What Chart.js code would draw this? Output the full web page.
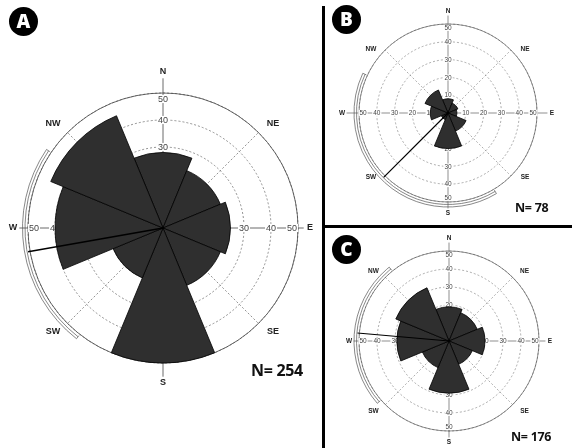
<!DOCTYPE html>
<html>
<head>
<meta charset="utf-8">
<script src="https://cdn.jsdelivr.net/npm/chart.js@4.4.0/dist/chart.umd.min.js"></script>
<style>
  body { margin: 0; background: #fff; width: 572px; height: 448px; position: relative; overflow: hidden; font-family: "Open Sans", sans-serif; }
  .panel { position: absolute; }
  .badge { position: absolute; width: 29px; height: 29px; border-radius: 50%; background: #000; color: #fff;
           font: 800 19px/29px "Open Sans", sans-serif; text-align: center; }
  .count { position: absolute; font-weight: 700; color: #111; white-space: nowrap; letter-spacing: -0.3px; }
  .rule { position: absolute; background: #000; }
</style>
</head>
<body>
<div class="panel" style="left:0;top:0;width:322px;height:448px"><canvas id="roseA"></canvas></div>
<div class="panel" style="left:325px;top:0;width:247px;height:225px"><canvas id="roseB"></canvas></div>
<div class="panel" style="left:325px;top:228px;width:247px;height:220px"><canvas id="roseC"></canvas></div>

<div class="rule" style="left:322px;top:6px;width:3px;height:442px"></div>
<div class="rule" style="left:322px;top:225px;width:250px;height:3px"></div>

<div class="badge" style="left:9px;top:7px">A</div>
<div class="badge" style="left:332px;top:5px">B</div>
<div class="badge" style="left:332px;top:235px">C</div>

<div class="count" style="left:251px;top:359px;font-size:16px">N= 254</div>
<div class="count" style="left:515px;top:199px;font-size:12.5px">N= 78</div>
<div class="count" style="left:511px;top:428px;font-size:12.5px">N= 176</div>

<script>
// 45 degree bins, centred on the compass points
const directions = ['N', 'NE', 'E', 'SE', 'S', 'SW', 'W', 'NW'];
const countsA = [28, 23, 25, 23, 50, 20, 40, 45];
const countsB = [8, 6, 5, 11, 20, 4, 10, 14];
const countsC = [19, 17, 20, 14, 29, 16, 29, 32];
const ringValues = [10, 20, 30, 40, 50];

// mean direction and confidence interval, in degrees (A, B, C)
const meanDirs = [260, 225, 275];
const ciLow = [218, 149, 229];
const ciHigh = [304, 295, 321];

const FONT = '"Liberation Sans", Arial, sans-serif';

const compassRose = {
  id: 'compassRose',
  beforeDatasetsDraw(chart, args, o) {
    const s = chart.scales.r;
    const ctx = chart.ctx;
    const R = s.drawingArea;
    const at = (b, d) => [s.xCenter + d * Math.sin(b * Math.PI / 180), s.yCenter - d * Math.cos(b * Math.PI / 180)];
    ctx.save();
    ctx.lineWidth = o.lineWidth;

    // dashed diagonals
    ctx.strokeStyle = '#777';
    ctx.setLineDash([2, 2]);
    [45, 135, 225, 315].forEach(b => {
      const p = at(b, R);
      ctx.beginPath(); ctx.moveTo(s.xCenter, s.yCenter); ctx.lineTo(p[0], p[1]); ctx.stroke();
    });
    ctx.setLineDash([]);

    // outer ring and main axes
    ctx.strokeStyle = '#444';
    ctx.beginPath(); ctx.arc(s.xCenter, s.yCenter, R, 0, Math.PI * 2); ctx.stroke();
    [0, 90, 180, 270].forEach((b, i) => {
      const p = at(b, o.letterDist[i] - o.letterFont * 0.7);
      ctx.beginPath(); ctx.moveTo(s.xCenter, s.yCenter); ctx.lineTo(p[0], p[1]); ctx.stroke();
    });

    // ring values along the axes
    ctx.font = o.tickFont + 'px ' + FONT;
    ctx.textAlign = 'center';
    ctx.textBaseline = 'middle';
    ringValues.forEach(v => {
      let d = s.getDistanceFromCenterForValue(v);
      if (v === s.max) d -= o.tickInset;
      const w = ctx.measureText(String(v)).width;
      [0, 90, 180, 270].forEach(b => {
        const [x, y] = at(b, d);
        ctx.fillStyle = '#fff';
        ctx.fillRect(x - w / 2 - 1, y - o.tickFont * 0.45, w + 2, o.tickFont * 0.9);
        ctx.fillStyle = '#444';
        ctx.fillText(String(v), x, y + 0.5);
      });
    });

    // compass letters
    ctx.font = 'bold ' + o.letterFont + 'px ' + FONT;
    ctx.fillStyle = '#222';
    ['N', 'E', 'S', 'W'].forEach((t, i) => {
      const [x, y] = at(i * 90, o.letterDist[i]);
      ctx.fillText(t, x, y);
    });
    [['NE', 1, -1], ['SE', 1, 1], ['SW', -1, 1], ['NW', -1, -1]].forEach(([t, sx, sy]) => {
      ctx.fillText(t, s.xCenter + sx * o.diag[0], s.yCenter + sy * o.diag[1]);
    });
    ctx.restore();
  },
  afterDatasetsDraw(chart, args, o) {
    const s = chart.scales.r;
    const ctx = chart.ctx;
    const R = s.drawingArea;
    const k = o.panel;
    const at = (b, d) => [s.xCenter + d * Math.sin(b * Math.PI / 180), s.yCenter - d * Math.cos(b * Math.PI / 180)];
    ctx.save();
    // mean direction
    ctx.strokeStyle = '#000';
    ctx.lineWidth = o.meanWidth;
    const p = at(meanDirs[k], R + 2);
    ctx.beginPath(); ctx.moveTo(s.xCenter, s.yCenter); ctx.lineTo(p[0], p[1]); ctx.stroke();
    // confidence bracket
    ctx.strokeStyle = '#555';
    ctx.lineWidth = 0.7;
    const a0 = (ciLow[k] - 90) * Math.PI / 180;
    const a1 = (ciHigh[k] - 90) * Math.PI / 180;
    [R + o.gap, R + o.gap + 2.5].forEach(rr => {
      ctx.beginPath(); ctx.arc(s.xCenter, s.yCenter, rr, a0, a1); ctx.stroke();
    });
    [ciLow[k], ciHigh[k]].forEach(b => {
      const q0 = at(b, R + o.gap - 1.5), q1 = at(b, R + o.gap + 2.5);
      ctx.beginPath(); ctx.moveTo(q0[0], q0[1]); ctx.lineTo(q1[0], q1[1]); ctx.stroke();
    });
    ctx.restore();
  }
};

function drawRose(id, counts, padding, rose) {
  new Chart(document.getElementById(id), {
    type: 'polarArea',
    data: {
      labels: directions,
      datasets: [{
        data: counts,
        backgroundColor: '#2f2f2f',
        borderColor: '#000',
        borderWidth: 0.8
      }]
    },
    options: {
      responsive: true,
      maintainAspectRatio: false,
      animation: false,
      layout: { padding: padding },
      plugins: {
        legend: { display: false },
        tooltip: { enabled: false },
        compassRose: rose
      },
      scales: {
        r: {
          min: 0,
          max: 50,
          startAngle: -22.5,
          ticks: { display: false, stepSize: 10 },
          grid: { color: '#777', lineWidth: rose.lineWidth },
          border: { dash: [2, 2] },
          angleLines: { display: false },
          pointLabels: { display: false }
        }
      }
    },
    plugins: [compassRose]
  });
}

drawRose('roseA', countsA, { left: 28, right: 24, top: 93, bottom: 85 },
  { panel: 0, letterDist: [156, 147, 155, 150], diag: [110, 104], letterFont: 9, tickFont: 9,
    tickInset: 6, lineWidth: 0.8, meanWidth: 1.5, gap: 3 });
drawRose('roseB', countsB, { left: 34, right: 35, top: 24, bottom: 23 },
  { panel: 1, letterDist: [102, 104, 100, 106], diag: [77, 64], letterFont: 6.5, tickFont: 6.5,
    tickInset: 4, lineWidth: 0.6, meanWidth: 1.2, gap: 2.5 });
drawRose('roseC', countsC, { left: 34, right: 33, top: 23, bottom: 17 },
  { panel: 2, letterDist: [103, 101, 101, 100], diag: [75.5, 70], letterFont: 6.5, tickFont: 6.5,
    tickInset: 4, lineWidth: 0.6, meanWidth: 1.2, gap: 2.5 });
</script>
</body>
</html>
